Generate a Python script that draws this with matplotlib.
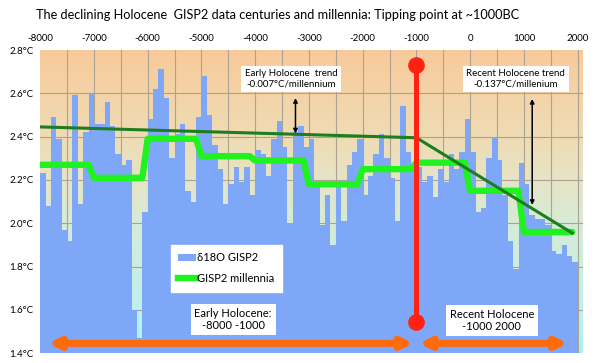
import numpy as np
import matplotlib
matplotlib.use('Agg')
import matplotlib.pyplot as plt
from matplotlib.colors import LinearSegmentedColormap
from matplotlib.patches import Patch
from matplotlib.lines import Line2D

plt.rcParams['font.family'] = ['Lato', 'DejaVu Sans']

# century start years, -8000 .. 1900
centuries = np.arange(-8000, 2000, 100)

# d18O GISP2 temperature per century (deg C)
gisp2 = [2.23, 2.08, 2.49, 2.39, 1.97, 1.92, 2.59, 2.09, 2.42, 2.60,
         2.46, 2.46, 2.56, 2.45, 2.32, 2.27, 2.29, 1.60, 1.47, 2.05,
         2.48, 2.62, 2.71, 2.58, 2.30, 2.41, 2.46, 2.15, 2.10, 2.49,
         2.68, 2.50, 2.36, 2.25, 2.09, 2.18, 2.26, 2.19, 2.26, 2.13,
         2.34, 2.32, 2.22, 2.39, 2.47, 2.35, 2.00, 2.42, 2.45, 2.35,
         2.39, 2.19, 1.99, 2.13, 1.90, 2.19, 2.01, 2.27, 2.33, 2.39,
         2.13, 2.22, 2.32, 2.41, 2.30, 2.21, 2.01, 2.54, 2.33, 2.25,
         2.26, 2.19, 2.22, 2.12, 2.25, 2.19, 2.32, 2.25, 2.33, 2.48,
         2.33, 2.05, 2.07, 2.30, 2.40, 2.29, 2.13, 1.92, 1.79, 2.28,
         2.18, 2.04, 2.02, 2.02, 1.99, 1.87, 1.86, 1.90, 1.85, 1.82]

# millennium means, -8000 .. 1000
millennia = [2.27, 2.21, 2.39, 2.31, 2.29, 2.18, 2.25, 2.28, 2.15, 1.96]

early_trend_x = [-8000, -1000]
early_trend_y = [2.445, 2.395]
recent_trend_x = [-1000, 1900]
recent_trend_y = [2.395, 1.955]

tipping_year = -1000
tipping_y = [1.546, 2.731]

x_labels = ['-8000', '-7000', '-6000', '-5000', '-4000', '-3000',
            '-2000', '-1000', '0', '1000', '2000']
y_ticks = [1.4, 1.6, 1.8, 2.0, 2.2, 2.4, 2.6, 2.8]

fig = plt.figure(figsize=(6, 3.63), dpi=100)
W, H = 600, 363
ax = fig.add_axes([40.2 / W, 1 - 353.3 / H, (583 - 40.2) / W, (353.3 - 50) / H])
ax.set_xlim(-8000, 2100)
ax.set_ylim(1.4, 2.8)

# background gradient
bg = LinearSegmentedColormap.from_list('bg', [
    (0.0, '#A8F3F6'), (0.15, '#BEF1EC'), (0.43, '#D6EBD6'),
    (0.57, '#E6E4C6'), (0.71, '#EFDCB4'), (1.0, '#F8CA9A')])
grad = np.linspace(0, 1, 256).reshape(-1, 1)
ax.imshow(grad, cmap=bg, origin='lower', aspect='auto',
          extent=(-8000, 2100, 1.4, 2.8), zorder=0)

# grid
for gx in range(-7500, 2001, 500):
    ax.axvline(gx, color='#ACA294', lw=0.8, zorder=1)
for gy in y_ticks[1:-1]:
    ax.axhline(gy, color='#ACA294', lw=0.8, zorder=1)

ax.bar(centuries, np.array(gisp2) - 1.4, width=100, bottom=1.4, align='edge',
       color='#7FA7F8', edgecolor='none', zorder=2)

ax.plot(centuries, np.repeat(millennia, 10), color='#1FF21F', lw=4.6,
        solid_capstyle='round', solid_joinstyle='round', zorder=3)
ax.plot(early_trend_x, early_trend_y, color='#1E7D1E', lw=2.2, zorder=4)
ax.plot(recent_trend_x, recent_trend_y, color='#1E7D1E', lw=2.2, zorder=4)

ax.plot([tipping_year, tipping_year], tipping_y, color='#FF2212', lw=3.6,
        marker='o', markersize=11, zorder=5)

# orange period arrows
orange = dict(arrowstyle='<|-|>,head_length=0.6,head_width=0.3', color='#FF6A0A',
              lw=5, mutation_scale=10, shrinkA=0, shrinkB=0)
ax.annotate('', xy=(-7850, 1.446), xytext=(-1060, 1.446), arrowprops=orange, zorder=6)
ax.annotate('', xy=(-950, 1.446), xytext=(1815, 1.446), arrowprops=orange, zorder=6)

# trend arrows
black = dict(arrowstyle='<|-|>', color='black', lw=1.1, mutation_scale=6,
             shrinkA=0, shrinkB=0)
ax.annotate('', xy=(-3250, 2.415), xytext=(-3250, 2.578), arrowprops=black, zorder=6)
ax.annotate('', xy=(1155, 2.085), xytext=(1155, 2.574), arrowprops=black, zorder=6)

box = dict(boxstyle='square,pad=0.35', fc='white', ec='none')
ax.text(-3330, 2.667, 'Early Holocene  trend\n-0.007\u00b0C/millennium', fontsize=7,
        ha='center', va='center', bbox=box, zorder=7, linespacing=1.1)
ax.text(850, 2.667, 'Recent Holocene trend\n-0.137\u00b0C/millenium', fontsize=7,
        ha='center', va='center', bbox=box, zorder=7, linespacing=1.1)
ax.text(-4410, 1.556, 'Early Holocene:\n-8000 -1000', fontsize=8,
        ha='center', va='center', bbox=box, zorder=7, linespacing=1.1)
ax.text(405, 1.552, 'Recent Holocene\n-1000 2000', fontsize=8,
        ha='center', va='center', bbox=box, zorder=7, linespacing=1.1)

handles = [Patch(facecolor='#7FA7F8', edgecolor='none', label='\u03b418O GISP2'),
           Line2D([0], [0], color='#1FF21F', lw=4.6, label='GISP2 millennia')]
leg = ax.legend(handles=handles, loc='upper left', fontsize=8,
                bbox_to_anchor=(165 / W, 1 - 239 / H), bbox_transform=fig.transFigure,
                frameon=True, fancybox=False, framealpha=1, edgecolor='white',
                handlelength=1.6, handleheight=0.7, labelspacing=0.9,
                borderpad=0.7, handletextpad=0.1)
leg.set_zorder(7)

ax.xaxis.tick_top()
ax.set_xticks(range(-8000, 2001, 1000))
ax.set_xticklabels(x_labels, fontsize=7)
ax.set_yticks(y_ticks)
ax.set_yticklabels(['%.1f\u00b0C' % v for v in y_ticks], fontsize=7)
ax.tick_params(length=0, pad=5)
for s in ax.spines.values():
    s.set_visible(False)

fig.text(36 / W, 1 - 15 / H,
         'The declining Holocene  GISP2 data centuries and millennia: Tipping point at ~1000BC',
         fontsize=9.2, ha='left', va='center')

fig.savefig('out.png', dpi=100)
